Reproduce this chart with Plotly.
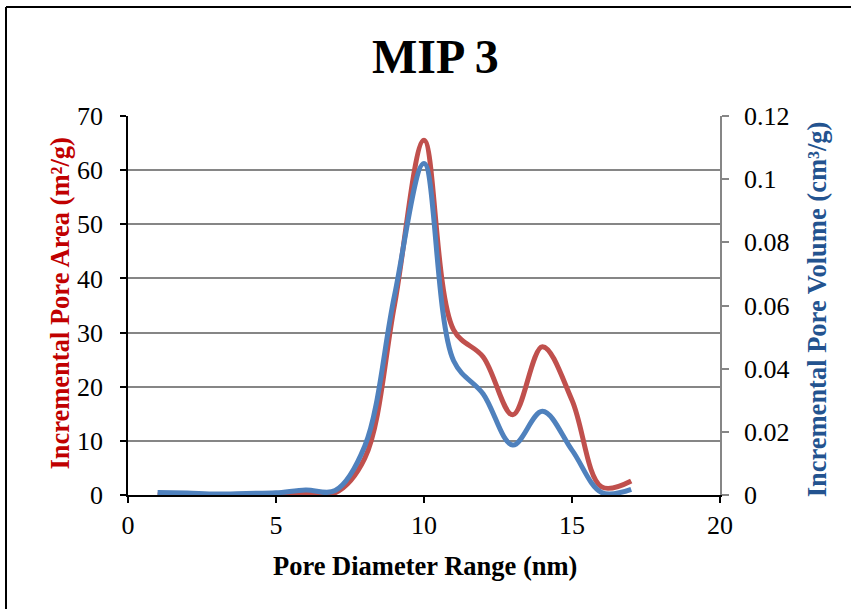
import plotly.graph_objects as go

# Pore diameter classes (nm)
diameter = [1, 2, 3, 4, 5, 6, 7, 8, 9, 10, 11, 12, 13, 14, 15, 16, 17]
# Incremental pore area (m²/g)
pore_area = [0, 0, 0, 0, 0.1, 0.3, 0.4, 6.8, 35, 65.5, 30.5, 25.5, 14.8, 27.4, 17.5, 1.5, 2.6]
# Incremental pore volume (cm³/g)
pore_volume = [0.0008, 0.0006, 0.0003, 0.0005, 0.0007, 0.0016, 0.0014, 0.0155, 0.063, 0.105,
               0.0425, 0.032, 0.0158, 0.0265, 0.0142, 0.0008, 0.0018]

x_ticks = [0, 5, 10, 15, 20]
area_ticks = [0, 10, 20, 30, 40, 50, 60, 70]
volume_ticks = [0, 0.02, 0.04, 0.06, 0.08, 0.1, 0.12]

FONT = "Times New Roman, Liberation Serif, serif"
RED = "#C0504D"
BLUE = "#4F81BD"
GRID = "#868686"
TICK_SIZE = 26
LABEL_SIZE = 26.5

fig = go.Figure()
fig.add_trace(go.Scatter(
    x=diameter, y=pore_area, mode="lines", name="Incremental Pore Area",
    line=dict(color=RED, width=5, shape="spline", smoothing=1.0),
    yaxis="y",
))
fig.add_trace(go.Scatter(
    x=diameter, y=pore_volume, mode="lines", name="Incremental Pore Volume",
    line=dict(color=BLUE, width=5, shape="spline", smoothing=1.0),
    yaxis="y2",
))

fig.update_layout(
    width=851, height=609,
    margin=dict(l=128, r=131, t=116, b=114),
    paper_bgcolor="white", plot_bgcolor="white",
    showlegend=False,
    font=dict(family=FONT, size=TICK_SIZE, color="black"),
    xaxis=dict(
        range=[0, 20], tickvals=x_ticks, ticktext=[str(v) for v in x_ticks],
        showgrid=False, zeroline=False,
        showline=True, linecolor="black", linewidth=1.5,
        ticks="outside", ticklen=6, tickwidth=1.5, tickcolor="black",
        tickfont=dict(family=FONT, size=TICK_SIZE),
    ),
    yaxis=dict(
        range=[0, 70], tickvals=area_ticks, ticktext=[str(v) for v in area_ticks],
        showgrid=True, gridcolor=GRID, gridwidth=1.5, zeroline=False,
        showline=True, linecolor="black", linewidth=1.5,
        ticks="outside", ticklen=6, tickwidth=1.5, tickcolor="black",
        ticklabelstandoff=12,
        tickfont=dict(family=FONT, size=TICK_SIZE),
    ),
    yaxis2=dict(
        range=[0, 0.12], tickvals=volume_ticks,
        ticktext=["0", "0.02", "0.04", "0.06", "0.08", "0.1", "0.12"],
        overlaying="y", side="right", showgrid=False, zeroline=False,
        showline=True, linecolor=GRID, linewidth=1.5,
        ticks="outside", ticklen=7, tickwidth=1.5, tickcolor=GRID,
        ticklabelstandoff=10,
        tickfont=dict(family=FONT, size=TICK_SIZE),
    ),
)

annotations = [
    dict(text="<b>MIP 3</b>", x=0.5186, y=1.1557, xref="paper", yref="paper",
         showarrow=False, font=dict(family=FONT, size=48, color="black"),
         xanchor="center", yanchor="middle"),
    dict(text="<b>Pore Diameter Range (nm)</b>", x=0.5017, y=-0.187, xref="paper", yref="paper",
         showarrow=False, font=dict(family=FONT, size=LABEL_SIZE, color="black"),
         xanchor="center", yanchor="middle"),
    dict(text="<b>Incremental Pore Area (m²/g)</b>", x=-0.1149, y=0.505, xref="paper", yref="paper",
         showarrow=False, textangle=-90, font=dict(family=FONT, size=LABEL_SIZE, color="#C00000"),
         xanchor="center", yanchor="middle"),
    dict(text="<b>Incremental Pore Volume (cm³/g)</b>", x=1.1639, y=0.49, xref="paper", yref="paper",
         showarrow=False, textangle=-90, font=dict(family=FONT, size=LABEL_SIZE, color="#23538F"),
         xanchor="center", yanchor="middle"),
]
fig.update_layout(annotations=annotations)

# Chart frame: left and top edges
fig.add_shape(type="line", xref="paper", yref="paper",
              x0=(6 - 128) / 592, x1=(851 - 128) / 592, y0=(495 - 7) / 379, y1=(495 - 7) / 379,
              line=dict(color="black", width=2))
fig.add_shape(type="line", xref="paper", yref="paper",
              x0=(6 - 128) / 592, x1=(6 - 128) / 592, y0=(495 - 7) / 379, y1=(495 - 612) / 379,
              line=dict(color="black", width=2))

fig.write_html("out.html")
